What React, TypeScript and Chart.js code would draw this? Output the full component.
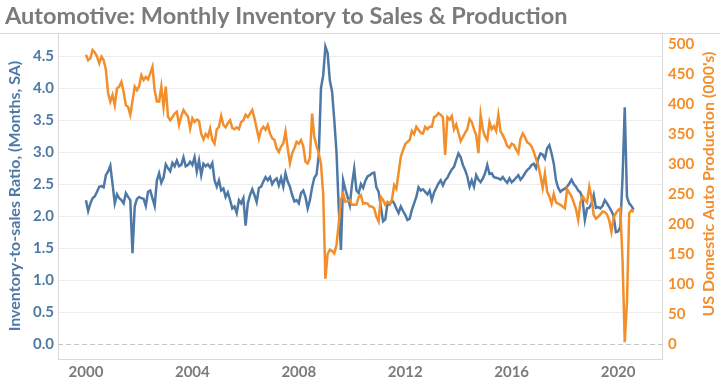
import React, { useEffect, useRef } from 'react';
import { Chart, registerables } from 'chart.js';

Chart.register(...registerables);

const TITLE = 'Automotive: Monthly Inventory to Sales & Production';
const LEFT_AXIS_TITLE = 'Inventory-to-sales Ratio, (Months, SA)';
const RIGHT_AXIS_TITLE = "US Domestic Auto Production (000's)";

const START_YEAR = 2000;

// Monthly inventory-to-sales ratio, Jan 2000 .. Aug 2020
const inventoryToSales: number[] = [
  2.25, 2.08, 2.2, 2.28, 2.31, 2.38, 2.46, 2.47, 2.45, 2.64, 2.7, 2.79,
  2.5, 2.2, 2.34, 2.28, 2.25, 2.2, 2.36, 2.3, 2.25, 1.42, 2.15, 2.27,
  2.3, 2.28, 2.27, 2.16, 2.38, 2.4, 2.28, 2.16, 2.56, 2.67, 2.52, 2.6,
  2.81, 2.75, 2.7, 2.83, 2.78, 2.87, 2.78, 2.8, 2.92, 2.78, 2.8, 2.85,
  2.8, 2.92, 2.7, 2.87, 2.64, 2.82, 2.78, 2.81, 2.76, 2.83, 2.56, 2.46,
  2.56, 2.4, 2.43, 2.3, 2.37, 2.25, 2.12, 2.15, 2.05, 2.25, 2.2, 2.28,
  1.85, 2.2, 2.33, 2.42, 2.33, 2.22, 2.44, 2.46, 2.54, 2.61, 2.56, 2.61,
  2.5, 2.56, 2.59, 2.48, 2.6, 2.46, 2.67, 2.54, 2.46, 2.33, 2.23, 2.25,
  2.2, 2.36, 2.4, 2.3, 2.12, 2.25, 2.45, 2.6, 2.65, 2.95, 4.0, 4.2,
  4.65, 4.55, 4.12, 3.95, 3.5, 3.0, 2.14, 1.47, 2.56, 2.42, 2.3, 2.17,
  2.5, 2.74, 2.4, 2.36, 2.5, 2.44, 2.55, 2.62, 2.64, 2.67, 2.68, 2.45,
  2.38, 2.14, 1.92, 1.95, 2.2, 2.18, 2.25, 2.2, 2.12, 2.05, 2.15, 2.08,
  2.02, 1.94, 1.96, 2.1, 2.2, 2.3, 2.45, 2.4, 2.42, 2.38, 2.34, 2.4,
  2.25, 2.37, 2.44, 2.51, 2.56, 2.48, 2.56, 2.6, 2.67, 2.73, 2.77, 2.88,
  2.98, 2.92, 2.8, 2.72, 2.62, 2.46, 2.56, 2.46, 2.64, 2.57, 2.53, 2.59,
  2.67, 2.8, 2.66, 2.67, 2.61, 2.6, 2.59, 2.57, 2.61, 2.56, 2.52, 2.59,
  2.53, 2.56, 2.6, 2.64, 2.57, 2.61, 2.67, 2.72, 2.75, 2.8, 2.82, 2.75,
  2.9, 2.98, 2.96, 2.9, 3.06, 3.11, 2.98, 2.82, 2.56, 2.44, 2.38, 2.41,
  2.43, 2.46, 2.51, 2.57, 2.5, 2.46, 2.4, 2.37, 2.25, 1.94, 2.12, 2.13,
  2.2, 2.33, 2.13, 2.14, 2.12, 2.16, 2.25, 2.2, 2.14, 2.08, 2.0, 1.75,
  1.76, 1.83, 2.6, 3.7, 2.3, 2.2, 2.16, 2.1,
];

// Monthly US domestic auto production (000's), Jan 2000 .. Aug 2020
const autoProduction: number[] = [
  482, 473, 476, 490, 486, 479, 468, 479, 473, 457, 418, 404,
  415, 398, 426, 429, 437, 420, 398, 395, 382, 405, 429, 423,
  430, 448, 440, 445, 441, 451, 462, 423, 404, 404, 429, 395,
  429, 379, 373, 378, 384, 387, 365, 380, 390, 384, 379, 359,
  376, 370, 374, 372, 350, 341, 350, 345, 359, 340, 334, 358,
  362, 380, 365, 361, 368, 373, 360, 358, 361, 358, 370, 373,
  382, 378, 384, 390, 376, 359, 342, 357, 362, 357, 365, 351,
  343, 340, 326, 320, 329, 334, 354, 326, 301, 318, 326, 337,
  334, 340, 330, 304, 301, 310, 384, 345, 330, 318, 300, 250,
  109, 150, 157, 155, 151, 165, 200, 240, 251, 237, 238, 240,
  232, 232, 232, 245, 248, 234, 235, 234, 229, 229, 226, 212,
  204, 245, 240, 232, 237, 234, 240, 265, 259, 285, 312, 323,
  333, 337, 340, 355, 350, 362, 357, 352, 351, 362, 358, 362,
  362, 378, 380, 385, 382, 378, 315, 378, 374, 380, 358, 366,
  352, 338, 345, 352, 358, 375, 370, 358, 348, 318, 382, 357,
  346, 340, 370, 358, 363, 355, 382, 354, 348, 340, 330, 327,
  334, 332, 324, 318, 342, 351, 345, 336, 334, 329, 320, 308,
  298, 280, 260, 284, 254, 246, 234, 250, 236, 234, 232, 229,
  226, 258, 252, 246, 236, 225, 207, 236, 246, 240, 236, 262,
  245, 215, 209, 212, 216, 221, 220, 216, 206, 187, 211, 218,
  223, 226, 140, 3, 70, 218, 223, 220,
];

const xTickYears = [2000, 2004, 2008, 2012, 2016, 2020];
const leftTicks = [0, 0.5, 1, 1.5, 2, 2.5, 3, 3.5, 4, 4.5];
const rightTicks = [0, 50, 100, 150, 200, 250, 300, 350, 400, 450, 500];

const BLUE = '#4e79a7';
const ORANGE = '#f28e2b';
const GRAY_TEXT = '#7b7b7b';
const FONT = 'Lato, "Open Sans", sans-serif';

const toPoints = (vals: number[]) =>
  vals.map((v, i) => ({ x: START_YEAR + i / 12, y: v }));

const framePlugin = {
  id: 'frame',
  beforeDraw(chart: any) {
    const { ctx, chartArea } = chart;
    ctx.save();
    ctx.strokeStyle = '#d9d9d9';
    ctx.lineWidth = 1;
    ctx.beginPath();
    ctx.moveTo(0, Math.round(chartArea.top) + 0.5);
    ctx.lineTo(chart.width, Math.round(chartArea.top) + 0.5);
    ctx.stroke();
    ctx.restore();
  },
  beforeDatasetsDraw(chart: any) {
    const { ctx, chartArea, scales } = chart;
    const y0 = Math.round(scales.y.getPixelForValue(0)) + 0.5;
    ctx.save();
    ctx.strokeStyle = '#c4c4c4';
    ctx.lineWidth = 1;
    ctx.setLineDash([5, 3]);
    ctx.beginPath();
    ctx.moveTo(chartArea.left, y0);
    ctx.lineTo(chartArea.right, y0);
    ctx.stroke();
    ctx.restore();
  },
  afterDraw(chart: any) {
    // right axis title, reading bottom-to-top like the left one
    const { ctx, chartArea } = chart;
    ctx.save();
    ctx.translate(chart.width - 11, (chartArea.top + chartArea.bottom) / 2 - 12);
    ctx.rotate(-Math.PI / 2);
    ctx.fillStyle = ORANGE;
    ctx.font = `bold 16px ${FONT}`;
    ctx.textAlign = 'center';
    ctx.textBaseline = 'middle';
    ctx.fillText(RIGHT_AXIS_TITLE, 0, 0);
    ctx.restore();
  },
};

export default function App() {
  const canvasRef = useRef<HTMLCanvasElement | null>(null);

  useEffect(() => {
    const canvas = canvasRef.current;
    if (!canvas) return;
    const chart = new Chart(canvas, {
      type: 'line',
      data: {
        datasets: [
          {
            label: LEFT_AXIS_TITLE,
            data: toPoints(inventoryToSales),
            yAxisID: 'y',
            borderColor: BLUE,
            backgroundColor: BLUE,
            borderWidth: 2.5,
            pointRadius: 0,
            tension: 0,
            order: 2,
          },
          {
            label: RIGHT_AXIS_TITLE,
            data: toPoints(autoProduction),
            yAxisID: 'y1',
            borderColor: ORANGE,
            backgroundColor: ORANGE,
            borderWidth: 2.5,
            pointRadius: 0,
            tension: 0,
            order: 1,
          },
        ],
      },
      options: {
        animation: false,
        responsive: false,
        devicePixelRatio: 1,
        layout: { padding: { left: 5, right: 0, top: 0, bottom: 0 } },
        plugins: {
          legend: { display: false },
          tooltip: { enabled: false },
          title: {
            display: true,
            text: TITLE,
            align: 'start',
            color: GRAY_TEXT,
            font: { family: FONT, size: 23.5, weight: 'bold' },
            padding: { top: 2, bottom: 3 },
          },
        },
        scales: {
          x: {
            type: 'linear',
            min: 1998.95,
            max: 2021.65,
            afterBuildTicks: (scale: any) => {
              scale.ticks = xTickYears.map((v) => ({ value: v }));
            },
            afterFit: (scale: any) => {
              scale.height = 24;
            },
            ticks: {
              color: GRAY_TEXT,
              font: { family: FONT, size: 15, weight: 'bold' },
              padding: 4,
              maxRotation: 0,
              autoSkip: false,
              callback: (v: any) => String(v),
            },
            grid: { display: false, drawTicks: false },
            border: { display: true, color: '#d9d9d9' },
          },
          y: {
            type: 'linear',
            position: 'left',
            min: -0.234,
            max: 4.86,
            afterBuildTicks: (scale: any) => {
              scale.ticks = leftTicks.map((v) => ({ value: v }));
            },
            afterFit: (scale: any) => {
              scale.width = 53;
            },
            ticks: {
              color: BLUE,
              font: { family: FONT, size: 15, weight: 'bold' },
              padding: 4,
              callback: (v: any) => Number(v).toFixed(1),
            },
            grid: {
              drawTicks: false,
              color: (ctx: any) => (ctx.tick && ctx.tick.value === 0 ? 'rgba(0,0,0,0)' : '#ececec'),
            },
            border: { display: true, color: '#d9d9d9' },
            title: {
              display: true,
              text: LEFT_AXIS_TITLE,
              color: BLUE,
              font: { family: FONT, size: 16, weight: 'bold' },
              padding: { top: 0, bottom: 0 },
            },
          },
          y1: {
            type: 'linear',
            position: 'right',
            min: -25,
            max: 518,
            afterBuildTicks: (scale: any) => {
              scale.ticks = rightTicks.map((v) => ({ value: v }));
            },
            afterFit: (scale: any) => {
              scale.width = 58;
            },
            ticks: {
              color: ORANGE,
              font: { family: FONT, size: 15, weight: 'bold' },
              padding: 6,
              callback: (v: any) => String(v),
            },
            grid: { display: false, drawTicks: false },
            border: { display: true, color: '#d9d9d9' },
            title: { display: false, text: RIGHT_AXIS_TITLE },
          },
        },
      },
      plugins: [framePlugin],
    } as any);
    return () => chart.destroy();
  }, []);

  return (
    <div style={{ position: 'fixed', left: 0, top: 0, width: 720, height: 383, background: '#fff' }}>
      <canvas ref={canvasRef} width={720} height={383} style={{ display: 'block' }} />
    </div>
  );
}
